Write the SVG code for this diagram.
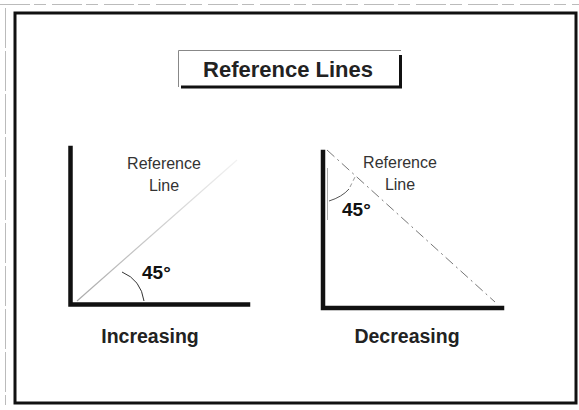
<svg xmlns="http://www.w3.org/2000/svg" width="579" height="410" viewBox="0 0 579 410">
<style>
.axis{fill:none;stroke:#111;stroke-width:4.5;stroke-linecap:square}
.lbl{font-family:"Liberation Sans",Arial,sans-serif;font-size:16px;fill:#333;text-anchor:middle}
.deg{font-family:"Liberation Sans",Arial,sans-serif;font-size:19px;font-weight:bold;fill:#111}
.cap{font-family:"Liberation Sans",Arial,sans-serif;font-size:19.5px;font-weight:bold;fill:#222;text-anchor:middle}
</style>
<defs>
<linearGradient id="fade" x1="77" y1="301" x2="237" y2="160" gradientUnits="userSpaceOnUse">
<stop offset="0" stop-color="#aaa"/><stop offset="0.5" stop-color="#ccc"/><stop offset="1" stop-color="#f2f2f2"/>
</linearGradient>
</defs>
<rect width="579" height="410" fill="#fff"/>
<g id="scan-edges" stroke="#bbb" stroke-width="1" fill="none">
<line x1="0" y1="4.5" x2="579" y2="4.5" stroke-dasharray="30 4 12 6"/>
<line x1="5.5" y1="8" x2="5.5" y2="405" stroke-dasharray="40 3"/>
</g>
<rect id="frame" x="15" y="13" width="561" height="390" fill="none" stroke="#111" stroke-width="3"/>
<g id="title">
<path d="M178.5,87 V50.5 H401" fill="none" stroke="#888" stroke-width="1"/>
<path d="M400.5,55 V87 H181" fill="none" stroke="#111" stroke-width="3"/>
<text x="288" y="76.5" font-family="'Liberation Sans',Arial,sans-serif" font-size="22" font-weight="bold" fill="#222" text-anchor="middle">Reference Lines</text>
</g>
<g id="increasing">
<path class="axis" d="M70.5,148 V304.5 H248"/>
<line x1="77" y1="301" x2="237" y2="160" stroke="url(#fade)" stroke-width="1.2"/>
<path d="M122,272 Q141,280 144,301" fill="none" stroke="#333" stroke-width="1"/>
<text class="lbl" x="164" y="169">Reference</text>
<text class="lbl" x="164" y="191">Line</text>
<text class="deg" x="142" y="279">45°</text>
<text class="cap" x="150" y="343">Increasing</text>
</g>
<g id="decreasing">
<path class="axis" d="M323,152 V308 H502"/>
<line x1="327" y1="150" x2="495" y2="302" stroke="#777" stroke-width="1" stroke-dasharray="10 4 2 4"/>
<path d="M329,201 Q342,197 349,189" fill="none" stroke="#555" stroke-width="1"/>
<line x1="350" y1="187" x2="356" y2="175" stroke="#999" stroke-width="1" stroke-dasharray="4 3"/>
<line x1="327.5" y1="168" x2="327.5" y2="220" stroke="#aaa" stroke-width="1"/>
<text class="lbl" x="400" y="168">Reference</text>
<text class="lbl" x="400" y="190">Line</text>
<text class="deg" x="342" y="216">45°</text>
<text class="cap" x="407" y="343">Decreasing</text>
</g>
</svg>
